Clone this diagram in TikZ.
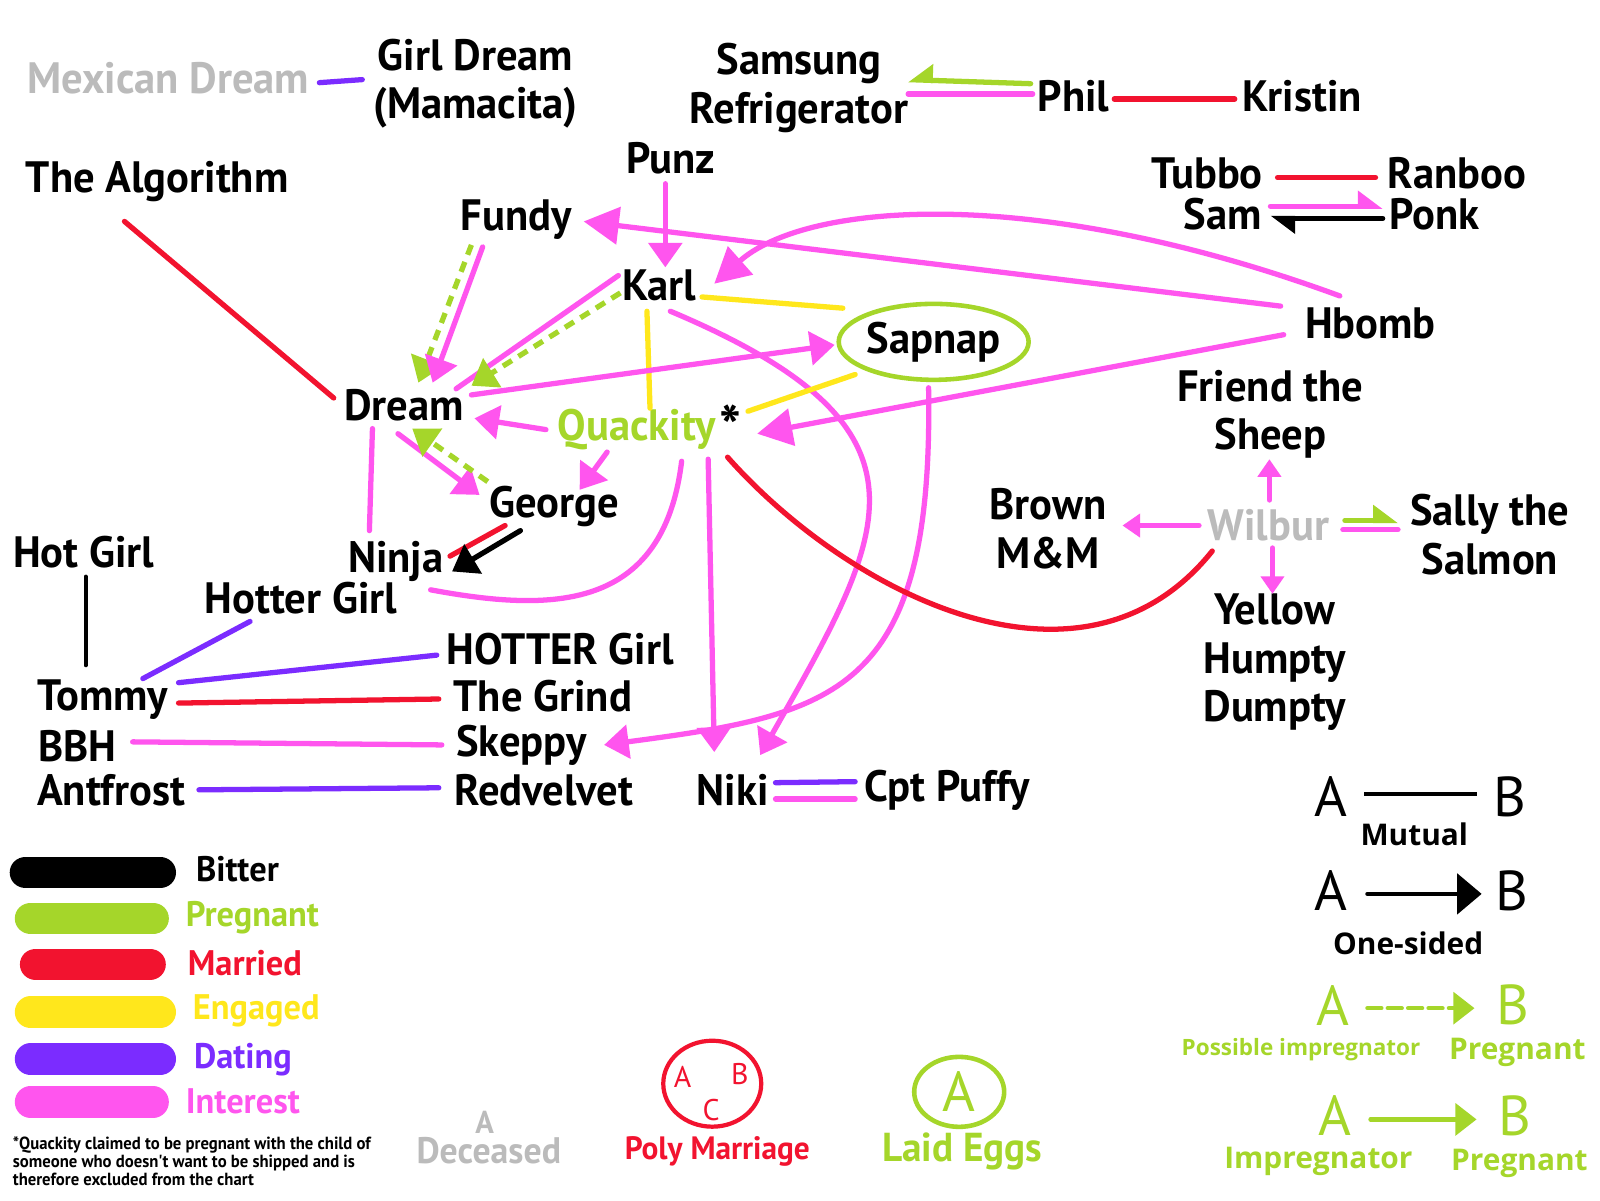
\documentclass[tikz,border=0pt]{standalone}
\usepackage{fontspec}
\setmainfont{PT Sans}[FakeStretch=0.97]
\newfontfamily\keyfont{Open Sans}
\newfontfamily\handfont{PT Sans}
\newfontfamily\notefont{PT Sans}[FakeStretch=0.95]
\usetikzlibrary{arrows.meta,shapes.geometric}
\definecolor{interest}{HTML}{FF55EE}
\definecolor{dating}{HTML}{7B2CFF}
\definecolor{married}{HTML}{F2132F}
\definecolor{engaged}{HTML}{FFE71C}
\definecolor{pregnant}{HTML}{A5D62A}
\definecolor{bitter}{HTML}{000000}
\definecolor{deceased}{HTML}{BBBBBB}

\begin{document}
\begin{tikzpicture}[x=0.010204cm, y=-0.010204cm,
    person/.style={font=\fontsize{12.5}{13.8}\selectfont\bfseries, align=center, inner sep=2pt},
    keylabel/.style={font=\fontsize{10.1}{12}\selectfont\bfseries, anchor=west, inner sep=1pt},
    keyletter/.style={font=\handfont\fontsize{16}{16}\selectfont, inner sep=0pt},
    keyword/.style={font=\keyfont\bfseries\fontsize{8.5}{10}\selectfont, inner sep=0pt},
    link/.style={line width=1.5pt, line cap=round},
    interestln/.style={link, draw=interest},
    datingln/.style={link, draw=dating},
    marriedln/.style={link, draw=married},
    engagedln/.style={link, draw=engaged},
    pregnantln/.style={link, draw=pregnant},
    bitterln/.style={link, draw=bitter},
    possible/.style={dash pattern=on 3pt off 2.2pt, line cap=butt},
    tip/.style={-{Triangle[length=7pt,width=9.5pt]}},
    bigtip/.style={-{Triangle[length=10pt,width=10.5pt]}},
    smalltip/.style={-{Triangle[length=5pt,width=6.5pt]}},
    halftip/.style={-{Triangle[harpoon,length=6pt,width=8.5pt]}},
    halftipswap/.style={-{Triangle[harpoon,swap,length=6pt,width=9pt]}},
    bar/.style={line width=9pt, line cap=round},
  ]
  \fill[white] (0,0) rectangle (1568,1176);
  \useasboundingbox (0,0) rectangle (1568,1176);

  % people
  \node[person, text=deceased] (mexican) at (165,77) {Mexican Dream};
  \node[person] (girldream) at (466,82) {Girl Dream\\(Mamacita)};
  \node[person] (samsung) at (783,86) {Samsung\\Refrigerator};
  \node[person] (phil) at (1052,94) {Phil};
  \node[person] (kristin) at (1276,94) {Kristin};
  \node[person] (algorithm) at (154,178) {The Algorithm};
  \node[person] (punz) at (657,155) {Punz};
  \node[person] (tubbo) at (1183,170) {Tubbo};
  \node[person] (ranboo) at (1428,170) {Ranboo};
  \node[person] (sam) at (1198,210) {Sam};
  \node[person] (ponk) at (1406,210) {Ponk};
  \node[person] (fundy) at (506,215) {Fundy};
  \node[person] (karl) at (646,280) {Karl};
  \node[person, ellipse, draw=pregnant, line width=1.3pt, inner sep=0pt, minimum width=1.9cm, minimum height=0.76cm] (sapnap) at (915,335) {Sapnap};
  \node[person] (hbomb) at (1343,317) {Hbomb};
  \node[person] (dream) at (396,397) {Dream};
  \node[person, text=pregnant] (quackity) at (624,421) {Quackity};
  \node[person, font=\fontsize{17}{17}\selectfont\bfseries] (quackstar) at (716,418) {*};
  \node[person] (friend) at (1245,406) {Friend the\\Sheep};
  \node[person] (george) at (543,496) {George};
  \node[person] (ninja) at (388,550) {Ninja};
  \node[person] (hotgirl) at (82,541) {Hot Girl};
  \node[person] (hottergirl) at (295,586) {Hotter Girl};
  \node[person] (brown) at (1027,518) {Brown\\M\&M};
  \node[person, text=deceased] (wilbur) at (1243,515) {Wilbur};
  \node[person] (sally) at (1460,524) {Sally the\\Salmon};
  \node[person] (humpty) at (1249,649) {Yellow\\Humpty\\Dumpty};
  \node[person] (hottest) at (549,636) {HOTTER Girl};
  \node[person] (tommy) at (101,686) {Tommy};
  \node[person] (grind) at (532,682) {The Grind};
  \node[person] (bbh) at (76,731) {BBH};
  \node[person] (skeppy) at (511,730) {Skeppy};
  \node[person] (antfrost) at (109,774) {Antfrost};
  \node[person] (redvelvet) at (533,774) {Redvelvet};
  \node[person] (niki) at (718,774) {Niki};
  \node[person] (puffy) at (928,774) {Cpt Puffy};

  % top row
  \draw[datingln] ([shift={(148,4)}]mexican.center) -- ([shift={(-111,-4)}]girldream.center);
  \draw[pregnantln, halftipswap] ([shift={(-42,-12)}]phil.center) -- ([shift={(107,-8)}]samsung.center);
  \draw[interestln] ([shift={(-40,-2)}]phil.center) -- ([shift={(107,6)}]samsung.center);
  \draw[marriedln] ([shift={(40,3)}]phil.center) -- ([shift={(-66,3)}]kristin.center);
  \draw[marriedln] ([shift={(69,4)}]tubbo.center) -- ([shift={(-80,4)}]ranboo.center);
  \draw[interestln, halftip] ([shift={(47,-8)}]sam.center) -- ([shift={(-51,-8)}]ponk.center);
  \draw[bitterln, halftip] ([shift={(-51,4)}]ponk.center) -- ([shift={(47,4)}]sam.center);

  % Punz, Hbomb
  \draw[interestln, tip] ([shift={(-5,25)}]punz.center) -- ([shift={(6,-18)}]karl.center);
  \draw[interestln, bigtip] ([shift={(-88,-17)}]hbomb.center) -- ([shift={(66,2)}]fundy.center);
  \draw[interestln, bigtip] ([shift={(-30,-27)}]hbomb.center) .. controls +(-300,-110) and +(90,-80) .. ([shift={(54,-2)}]karl.center);
  \draw[interestln, bigtip] ([shift={(-85,11)}]hbomb.center) -- ([shift={(118,4)}]quackity.center);

  % Karl
  \draw[engagedln] ([shift={(42,11)}]karl.center) -- ([shift={(-89,-33)}]sapnap.center);
  \draw[engagedln] ([shift={(-12,25)}]karl.center) -- ([shift={(13,-21)}]quackity.center);
  \draw[interestln, tip] ([shift={(11,25)}]karl.center) .. controls +(273,115) and +(125,-220) .. ([shift={(27,-34)}]niki.center);
  \draw[interestln] ([shift={(-40,-10)}]karl.center) -- ([shift={(51,-16)}]dream.center);
  \draw[pregnantln, possible, tip] ([shift={(-38,7)}]karl.center) -- ([shift={(66,-19)}]dream.center);

  % Fundy, Sapnap
  \draw[pregnantln, possible, tip] ([shift={(-44,25)}]fundy.center) -- ([shift={(14,-22)}]dream.center);
  \draw[interestln, tip] ([shift={(-33,27)}]fundy.center) -- ([shift={(28,-22)}]dream.center);
  \draw[interestln, tip] ([shift={(66,-10)}]dream.center) -- ([shift={(-97,3)}]sapnap.center);
  \draw[engagedln] ([shift={(-77,32)}]sapnap.center) -- ([shift={(109,-18)}]quackity.center);
  \draw[interestln, tip] ([shift={(-5,45)}]sapnap.center) .. controls +(5,300) and +(228,-30) .. ([shift={(81,0)}]skeppy.center);

  % Quackity
  \draw[interestln, tip] ([shift={(-89,0)}]quackity.center) -- ([shift={(69,13)}]dream.center);
  \draw[interestln, tip] ([shift={(-29,22)}]quackity.center) -- ([shift={(25,-16)}]george.center);
  \draw[interestln, tip] ([shift={(70,29)}]quackity.center) -- ([shift={(-18,-37)}]niki.center);
  \draw[interestln] ([shift={(44,31)}]quackity.center) .. controls +(-18,148) and +(118,22) .. ([shift={(34,28)}]ninja.center);
  \draw[marriedln] ([shift={(89,27)}]quackity.center) .. controls +(117,132) and +(-128,160) .. ([shift={(-55,25)}]wilbur.center);

  % Dream, George, Ninja
  \draw[marriedln] ([shift={(-32,39)}]algorithm.center) -- ([shift={(-69,-7)}]dream.center);
  \draw[interestln] ([shift={(-31,23)}]dream.center) -- ([shift={(-26,-30)}]ninja.center);
  \draw[interestln, tip] ([shift={(-6,28)}]dream.center) -- ([shift={(-73,-11)}]george.center);
  \draw[pregnantln, possible, tip] ([shift={(-65,-24)}]george.center) -- ([shift={(8,23)}]dream.center);
  \draw[marriedln] ([shift={(-48,19)}]george.center) -- ([shift={(53,-5)}]ninja.center);
  \draw[bitterln, tip] ([shift={(-33,24)}]george.center) -- ([shift={(55,10)}]ninja.center);

  % left side
  \draw[bitterln, line width=1.1pt] ([shift={(2,24)}]hotgirl.center) -- ([shift={(-17,-34)}]tommy.center);
  \draw[datingln] ([shift={(39,-21)}]tommy.center) -- ([shift={(-50,23)}]hottergirl.center);
  \draw[datingln] ([shift={(74,-17)}]tommy.center) -- ([shift={(-121,6)}]hottest.center);
  \draw[marriedln] ([shift={(74,3)}]tommy.center) -- ([shift={(-102,3)}]grind.center);
  \draw[interestln] ([shift={(54,-4)}]bbh.center) -- ([shift={(-78,0)}]skeppy.center);
  \draw[datingln] ([shift={(86,0)}]antfrost.center) -- ([shift={(-103,-2)}]redvelvet.center);
  \draw[datingln] ([shift={(42,-7)}]niki.center) -- ([shift={(-90,-8)}]puffy.center);
  \draw[interestln] ([shift={(42,9)}]niki.center) -- ([shift={(-90,9)}]puffy.center);

  % Wilbur
  \draw[interestln, smalltip] ([shift={(1,-25)}]wilbur.center) -- ([shift={(-1,44)}]friend.center);
  \draw[interestln, smalltip] ([shift={(-68,0)}]wilbur.center) -- ([shift={(73,-3)}]brown.center);
  \draw[interestln, smalltip] ([shift={(4,22)}]wilbur.center) -- ([shift={(-2,-67)}]humpty.center);
  \draw[pregnantln, halftip] ([shift={(75,-5)}]wilbur.center) -- ([shift={(-90,-14)}]sally.center);
  \draw[interestln] ([shift={(73,4)}]wilbur.center) -- ([shift={(-90,-5)}]sally.center);

  % colour key
  \draw[bar, draw=bitter] (25,855) -- (157,855);
  \draw[bar, draw=pregnant] (30,900) -- (150,900);
  \draw[bar, draw=married] (35,945) -- (147,945);
  \draw[bar, draw=engaged] (30,992) -- (157,992);
  \draw[bar, draw=dating] (30,1038) -- (157,1038);
  \draw[bar, draw=interest] (30,1080) -- (150,1080);
  \node[keylabel, text=bitter] (keybitter) at (188,852) {Bitter};
  \node[keylabel, text=pregnant] (keypregnant) at (178,899) {Pregnant};
  \node[keylabel, text=married] (keymarried) at (180,944) {Married};
  \node[keylabel, text=engaged] (keyengaged) at (185,991) {Engaged};
  \node[keylabel, text=dating] (keydating) at (186,1038) {Dating};
  \node[keylabel, text=interest] (keyinterest) at (178,1079) {Interest};
  \node[font=\notefont\bfseries\fontsize{5}{5.2}\selectfont, align=left, anchor=north west, inner sep=0pt] (footnote) at (12,1113)
    {*Quackity claimed to be pregnant with the child of\\someone who doesn't want to be shipped and is\\therefore excluded from the chart};

  % symbol key
  \node[font=\fontsize{9}{10}\selectfont\bfseries, text=deceased] (deadA) at (475,1100) {A};
  \node[font=\fontsize{10.5}{12}\selectfont\bfseries, text=deceased] (deceased) at (479,1128) {Deceased};
  \node[ellipse, draw=married, line width=1.2pt, minimum width=0.98cm, minimum height=0.86cm] (polyring) at (698,1062) {};
  \node[font=\handfont\fontsize{8.5}{8.5}\selectfont, text=married] (polyA) at (669,1055) {A};
  \node[font=\handfont\fontsize{8.5}{8.5}\selectfont, text=married] (polyB) at (725,1053) {B};
  \node[font=\handfont\fontsize{8.5}{8.5}\selectfont, text=married] (polyC) at (697,1088) {C};
  \node[font=\fontsize{9.2}{11}\selectfont\bfseries, text=married] (poly) at (703,1128) {Poly Marriage};
  \node[ellipse, draw=pregnant, line width=1.3pt, minimum width=0.9cm, minimum height=0.7cm, inner sep=0pt,
    font=\handfont\fontsize{16}{16}\selectfont, text=pregnant] (eggring) at (940,1070) {A};
  \node[font=\fontsize{11.5}{12}\selectfont\bfseries, text=pregnant] (eggs) at (943,1128) {Laid Eggs};

  % arrow key
  \node[keyletter] (mutA) at (1304,781) {A};
  \node[keyletter] (mutB) at (1480,781) {B};
  \draw[bitterln, line width=1pt, line cap=butt] ([shift={(33,-3)}]mutA.center) -- ([shift={(-33,-3)}]mutB.center);
  \node[keyword] (mutual) at (1386,818) {Mutual};
  \node[keyletter] (oneA) at (1304,873) {A};
  \node[keyletter] (oneB) at (1482,873) {B};
  \draw[bitterln, line width=1.2pt, -{Triangle[length=7pt,width=11.5pt]}] ([shift={(36,3)}]oneA.center) -- ([shift={(-30,3)}]oneB.center);
  \node[keyword] (onesided) at (1380,924) {One-sided};
  \node[keyletter, text=pregnant] (posA) at (1306,985) {A};
  \node[keyletter, text=pregnant] (posB) at (1483,985) {B};
  \draw[pregnantln, line width=1.2pt, dash pattern=on 4pt off 1.8pt, -{Triangle[length=6pt,width=9pt]}] ([shift={(34,3)}]posA.center) -- ([shift={(-38,3)}]posB.center);
  \node[keyword, font=\keyfont\bfseries\fontsize{6.4}{8}\selectfont, text=pregnant] (posimp) at (1275,1029) {Possible impregnator};
  \node[keyword, text=pregnant] (pospreg) at (1487,1031) {Pregnant};
  \node[keyletter, text=pregnant] (impA) at (1308,1093) {A};
  \node[keyletter, text=pregnant] (impB) at (1485,1093) {B};
  \draw[pregnantln, line width=1.2pt, -{Triangle[length=6pt,width=9pt]}] ([shift={(35,4)}]impA.center) -- ([shift={(-38,4)}]impB.center);
  \node[keyword, text=pregnant] (imp) at (1292,1138) {Impregnator};
  \node[keyword, text=pregnant] (imppreg) at (1489,1140) {Pregnant};
\end{tikzpicture}
\end{document}
